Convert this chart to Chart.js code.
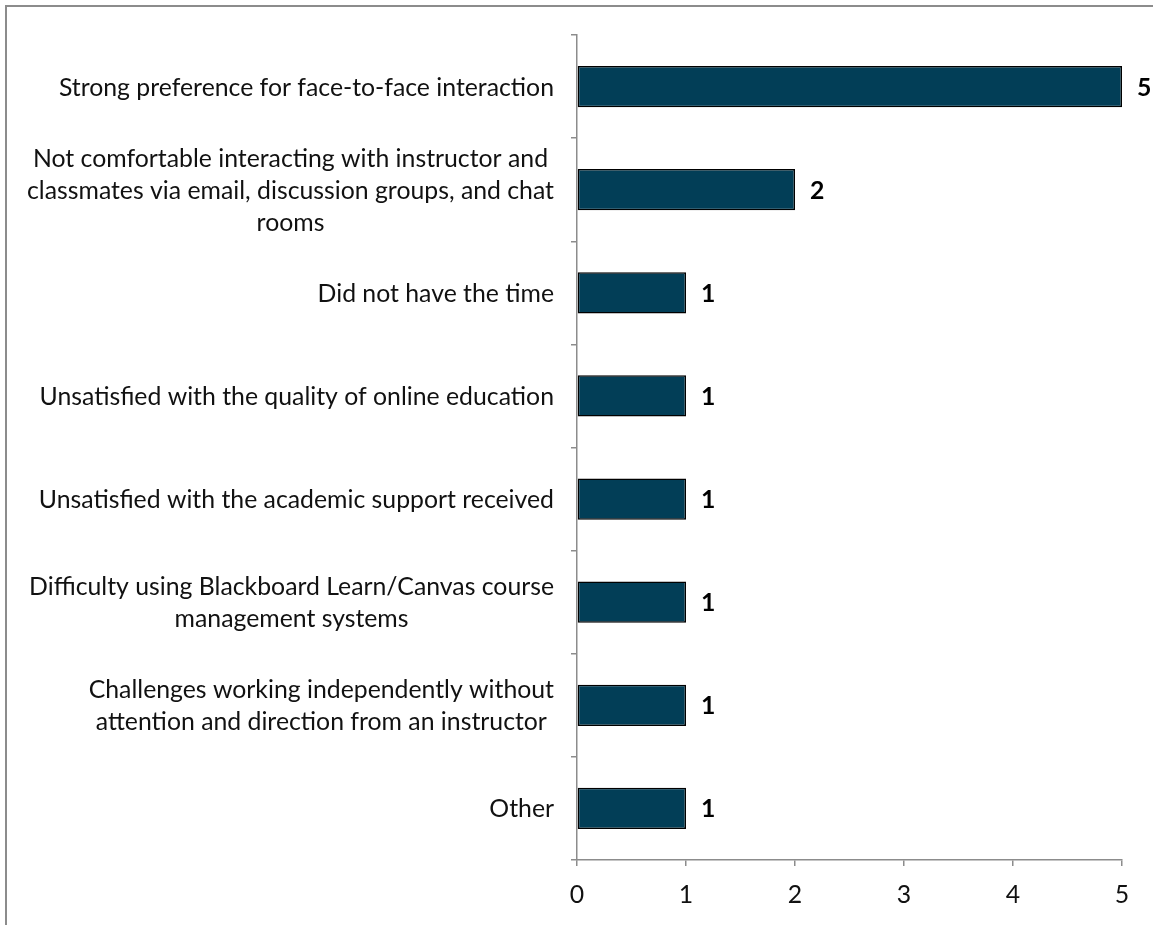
<!DOCTYPE html>
<html>
<head>
<meta charset="utf-8">
<script src="https://cdn.jsdelivr.net/npm/chart.js@4"></script>
<style>
html,body{margin:0;padding:0;background:#fff;overflow:hidden;}
#wrap{position:relative;width:1153px;height:925px;}
#frame{position:absolute;left:5px;top:5px;width:2000px;height:2000px;border:2px solid #8c8c8c;box-sizing:border-box;pointer-events:none;}
canvas{position:absolute;left:0;top:0;}
</style>
</head>
<body>
<div id="wrap">
<canvas id="c" width="1153" height="925"></canvas>
<div id="frame"></div>
</div>
<script>
const categories = [
  ["Strong preference for face-to-face interaction"],
  ["Not comfortable interacting with instructor and", "classmates via email, discussion groups, and chat", "rooms"],
  ["Did not have the time"],
  ["Unsatisfied with the quality of online education"],
  ["Unsatisfied with the academic support received"],
  ["Difficulty using Blackboard Learn/Canvas course", "management systems"],
  ["Challenges working independently without", "attention and direction from an instructor"],
  ["Other"]
];
const values = [5, 2, 1, 1, 1, 1, 1, 1];
const xTicks = [0, 1, 2, 3, 4, 5];

const FAMILY = "Lato, 'Open Sans', sans-serif";
const mc = document.createElement('canvas').getContext('2d');
mc.font = "100px " + FAMILY;
const w100 = mc.measureText("Strong preference for face-to-face interaction").width;
const FS = Math.round(495 / w100 * 100 * 10) / 10;
const LINE = 32;

const labelPlugin = {
  id: 'valLabels',
  afterDatasetsDraw(chart) {
    const ctx = chart.ctx;
    const meta = chart.getDatasetMeta(0);
    ctx.save();
    ctx.font = "bold " + FS + "px " + FAMILY;
    ctx.fillStyle = '#000';
    ctx.textAlign = 'left';
    ctx.textBaseline = 'middle';
    meta.data.forEach((bar, i) => {
      ctx.fillText(String(values[i]), bar.x + 15, bar.y + 1);
    });
    // category labels: block right-aligned to the axis, lines centred within block
    const ys = chart.scales.y;
    ctx.font = FS + "px " + FAMILY;
    ctx.fillStyle = '#111';
    ctx.textAlign = 'center';
    const rightEdge = ys.right - 23;
    categories.forEach((lines, i) => {
      const yc = ys.getPixelForTick(i);
      const maxW = Math.max(...lines.map(l => ctx.measureText(l).width));
      const cx = rightEdge - maxW / 2;
      lines.forEach((l, j) => {
        ctx.fillText(l, cx, yc + (j - (lines.length - 1) / 2) * LINE + 1);
      });
    });
    ctx.restore();
  }
};

function zeroPad(scale){
  scale.paddingTop = 0; scale.paddingBottom = 0;
  scale.paddingLeft = 0; scale.paddingRight = 0;
}

new Chart(document.getElementById('c'), {
  type: 'bar',
  data: {
    labels: categories,
    datasets: [{
      data: values,
      backgroundColor: '#023E57',
      borderColor: '#000',
      borderWidth: 1.5,
      borderSkipped: false,
      categoryPercentage: 1,
      barPercentage: 0.4
    }]
  },
  options: {
    indexAxis: 'y',
    responsive: false,
    animation: false,
    layout: { padding: { top: 35, right: 31, left: 0, bottom: 0 } },
    plugins: { legend: { display: false }, tooltip: { enabled: false } },
    scales: {
      y: {
        offset: true,
        afterFit(scale) { scale.width = 577; zeroPad(scale); },
        border: { color: '#8c8c8c', width: 1.5 },
        grid: { drawOnChartArea: false, drawTicks: true, tickLength: 6, color: '#8c8c8c', lineWidth: 1.5, offset: true },
        ticks: { display: false, autoSkip: false }
      },
      x: {
        min: 0, max: 5,
        afterFit(scale) { scale.height = 65; zeroPad(scale); },
        afterBuildTicks(scale) { scale.ticks = xTicks.map(v => ({ value: v })); },
        border: { color: '#8c8c8c', width: 1.5 },
        grid: { drawOnChartArea: false, drawTicks: true, tickLength: 6, color: '#8c8c8c', lineWidth: 1.5 },
        ticks: {
          color: '#111',
          padding: 14,
          maxRotation: 0,
          font: { family: FAMILY, size: FS }
        }
      }
    }
  },
  plugins: [labelPlugin]
});
</script>
</body>
</html>
